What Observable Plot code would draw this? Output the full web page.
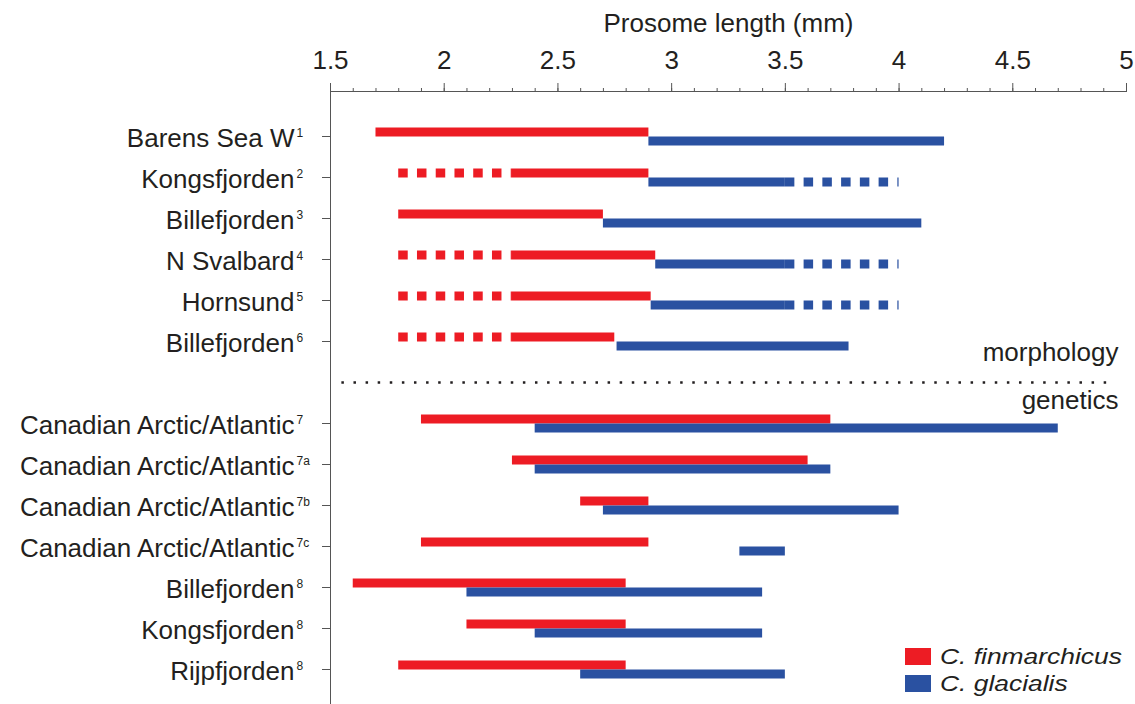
<!DOCTYPE html>
<html><head><meta charset="utf-8">
<script src="https://cdn.jsdelivr.net/npm/d3@7"></script>
<script src="https://cdn.jsdelivr.net/npm/@observablehq/plot@0.6"></script>
<style>
body{margin:0;background:#fff;}
#wrap{position:relative;width:1135px;height:704px;font-family:"Liberation Sans",Arial,sans-serif;}
.legend{position:absolute;left:905px;top:643px;color:#231f20;font-size:22px;font-style:italic;}
.legend div{display:flex;align-items:center;height:27px;}
.legend span.sw{display:inline-block;width:26px;height:17px;margin-right:9px;}
.legend span.lt{display:inline-block;height:21px;line-height:21px;white-space:nowrap;transform:scaleX(1.2);transform-origin:left center;}
</style></head><body><div id="wrap"></div>
<script>
// Row labels (empty entry = divider between morphology and genetics)
const sites = ["Barens Sea W","Kongsfjorden","Billefjorden","N Svalbard","Hornsund","Billefjorden","",
  "Canadian Arctic/Atlantic","Canadian Arctic/Atlantic","Canadian Arctic/Atlantic","Canadian Arctic/Atlantic",
  "Billefjorden","Kongsfjorden","Rijpfjorden"];
const refs = ["1","2","3","4","5","6","","7","7a","7b","7c","8","8","8"];
// C. finmarchicus: uncertain (dashed) start, solid start, end
const finDash = [null,1.8,null,1.8,1.8,1.8,null,null,null,null,null,null,null,null];
const finLo   = [1.7,2.3,1.8,2.3,2.3,2.3,null,1.9,2.3,2.6,1.9,1.6,2.1,1.8];
const finHi   = [2.9,2.9,2.7,2.93,2.91,2.75,null,3.7,3.6,2.9,2.9,2.8,2.8,2.8];
// C. glacialis: start, solid end, uncertain (dashed) end
const glaLo   = [2.9,2.9,2.7,2.93,2.91,2.76,null,2.4,2.4,2.7,3.3,2.1,2.4,2.6];
const glaHi   = [4.2,3.5,4.1,3.5,3.5,3.78,null,4.7,3.7,4.0,3.5,3.4,3.4,3.5];
const glaDash = [null,4.0,null,4.0,4.0,null,null,null,null,null,null,null,null,null];
// Axis ticks
const majorTicks = [1.5,2,2.5,3,3.5,4,4.5,5];
const minorTicks = d3.range(15,51).map(d=>d/10);
const sectionLabels = ["morphology","genetics"];
const dividerExtent = [1.55,4.95];
const species = ["C. finmarchicus","C. glacialis"];
const RED = "#ed1c24", BLUE = "#2a51a1";

const keys = sites.map((s,i)=> s + "|" + refs[i]);
const rows = sites.map((s,i)=>({key:keys[i], site:s, ref:refs[i],
  finDash:finDash[i], finLo:finLo[i], finHi:finHi[i], glaLo:glaLo[i], glaHi:glaHi[i], glaDash:glaDash[i]}));
const dataRows = rows.filter(r=>r.site);
const divider = keys[sites.indexOf("")];
const dash = "9.5,9.25";

const chart = Plot.plot({
  width:1135, height:704, marginLeft:330, marginRight:9, marginTop:91, marginBottom:0,
  style:{fontFamily:"'Liberation Sans', Arial, sans-serif", fontSize:"26px", color:"#231f20", background:"white"},
  x:{domain:[1.5,5]},
  y:{type:"point", domain:keys, range:[135,669], padding:0},
  marks:[
    Plot.frame({anchor:"top", stroke:"#555"}),
    Plot.frame({anchor:"left", stroke:"#555"}),
    Plot.axisX({anchor:"top", ticks:minorTicks, tickSize:4, tickFormat:()=>"", label:null, stroke:"#555"}),
    Plot.axisX({anchor:"top", ticks:majorTicks, tickSize:9, tickPadding:14, tickFormat:d=>String(d),
      label:"Prosome length (mm)", labelAnchor:"center", labelArrow:"none", labelOffset:78, stroke:"#555"}),
    Plot.axisY({ticks:dataRows.map(r=>r.key), tickSize:8, tickFormat:()=>"", label:null, stroke:"#555"}),
    Plot.ruleY([divider], {x1:()=>dividerExtent[0], x2:()=>dividerExtent[1], stroke:"#231f20", strokeWidth:2.5, strokeDasharray:"2.5,9.6"}),
    Plot.ruleY(dataRows.filter(r=>r.finDash!=null), {y:"key", x1:"finDash", x2:"finLo", stroke:RED, strokeWidth:9, dy:-4.5, strokeDasharray:dash}),
    Plot.ruleY(dataRows, {y:"key", x1:"finLo", x2:"finHi", stroke:RED, strokeWidth:9, dy:-4.5}),
    Plot.ruleY(dataRows, {y:"key", x1:"glaLo", x2:"glaHi", stroke:BLUE, strokeWidth:9, dy:4.5}),
    Plot.ruleY(dataRows.filter(r=>r.glaDash!=null), {y:"key", x1:"glaHi", x2:"glaDash", stroke:BLUE, strokeWidth:9, dy:4.5, strokeDasharray:dash}),
    Plot.text(dataRows, {y:"key", frameAnchor:"left", text:"site", textAnchor:"end", dx:-36, dy:2}),
    Plot.text(dataRows, {y:"key", frameAnchor:"left", text:"ref", textAnchor:"start", dx:-34, lineAnchor:"top", fontSize:12, dy:-8.5}),
    Plot.text([divider], {y:d=>d, frameAnchor:"right", text:()=>sectionLabels[0], textAnchor:"end", dx:-8, dy:-22, lineAnchor:"bottom"}),
    Plot.text([divider], {y:d=>d, frameAnchor:"right", text:()=>sectionLabels[1], textAnchor:"end", dx:-8, dy:26, lineAnchor:"bottom"})
  ]
});
const wrap = document.getElementById("wrap");
wrap.appendChild(chart);
const leg = document.createElement("div");
leg.className = "legend";
species.forEach((s,i)=>{
  const row = document.createElement("div");
  const sw = document.createElement("span"); sw.className="sw"; sw.style.background = i===0?RED:BLUE;
  const t = document.createElement("span"); t.className="lt"; t.textContent = s;
  row.appendChild(sw); row.appendChild(t); leg.appendChild(row);
});
wrap.appendChild(leg);
</script></body></html>
